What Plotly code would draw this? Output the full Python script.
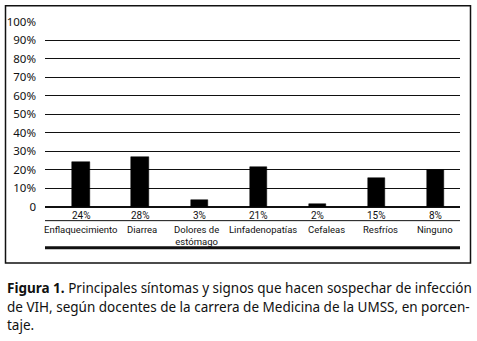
import plotly.graph_objects as go

categories = ["Enflaquecimiento", "Diarrea", "Dolores de<br>estómago", "Linfadenopatías",
              "Cefaleas", "Resfríos", "Ninguno"]
values = [24.4, 27.2, 3.8, 21.7, 1.7, 15.4, 20.2]
pct_labels = ["24%", "28%", "3%", "21%", "2%", "15%", "8%"]
y_ticks = [0, 10, 20, 30, 40, 50, 60, 70, 80, 90, 100]
y_ticktext = ["0", "10%", "20%", "30%", "40%", "50%", "60%", "70%", "80%", "90%", "100%"]
caption_lines = [
    "<b>Figura 1.</b> Principales síntomas y signos que hacen sospechar de infección",
    "de VIH, según docentes de la carrera de Medicina de la UMSS, en porcen-",
    "taje.",
]

W, H = 477, 341
L, R = 45, 460
T, B = 20.7, 207.3
FONT = "Noto Sans"
SMALL = "Roboto"
LABEL_SHIFT = [0, 2, -3, 5, 9, 4, 0]  # pixel nudges for category name text only

def px(x):
    return (x - L) / (R - L)

def py(y):
    return (B - y) / (B - T)

idx = list(range(len(categories)))

fig = go.Figure()
fig.add_trace(go.Bar(
    x=idx, y=values, width=0.29,
    marker=dict(color="#000000", line=dict(color="#000000", width=0.5)),
    hoverinfo="skip",
))

annotations = []
for i, (c, p) in enumerate(zip(categories, pct_labels)):
    annotations.append(dict(x=i, y=py(215.5), xref="x", yref="paper", text=p, showarrow=False,
                            font=dict(family=SMALL, size=10, color="#111"), yanchor="middle"))
    annotations.append(dict(x=i, y=py(222), xref="x", yref="paper", text=c, showarrow=False,
                            xshift=LABEL_SHIFT[i],
                            font=dict(family=SMALL, size=9.5, color="#111"), yanchor="top"))

for k, line in enumerate(caption_lines):
    annotations.append(dict(
        x=px(5), y=py(289 + 18.5 * k), xref="paper", yref="paper", xanchor="left", yanchor="middle",
        align="left", showarrow=False, text=line,
        font=dict(family=FONT, size=13.5, color="#111"),
    ))

shapes = [
    dict(type="rect", xref="paper", yref="paper", x0=px(5.5), x1=px(470.5), y0=py(5.5), y1=py(263.5),
         line=dict(color="#111", width=1.5)),
    dict(type="line", xref="paper", yref="paper", x0=0, x1=1, y0=py(221), y1=py(221),
         line=dict(color="#111", width=1)),
    dict(type="line", xref="paper", yref="paper", x0=0, x1=1, y0=py(248.3), y1=py(248.3),
         line=dict(color="#111", width=3)),
]

fig.update_layout(
    width=W, height=H,
    margin=dict(l=L, r=W - R, t=T, b=H - B, pad=0),
    paper_bgcolor="white", plot_bgcolor="white",
    showlegend=False,
    annotations=annotations,
    shapes=shapes,
    xaxis=dict(range=[-0.61, 6.42], showticklabels=False, showgrid=False, zeroline=False,
               showline=False, ticks="", fixedrange=True, automargin=False),
    yaxis=dict(range=[0, 100.3], tickvals=y_ticks, ticktext=y_ticktext,
               showgrid=True, gridcolor="#111", gridwidth=1,
               zeroline=True, zerolinecolor="#111", zerolinewidth=2,
               showline=False, ticks="", ticklabelstandoff=8, automargin=False,
               tickfont=dict(family=FONT, size=11.5, color="#111"), fixedrange=True),
    bargap=0,
)

fig.write_html("out.html", config={"displayModeBar": False},
               post_script="document.body.style.margin='0';document.body.style.padding='0';")
